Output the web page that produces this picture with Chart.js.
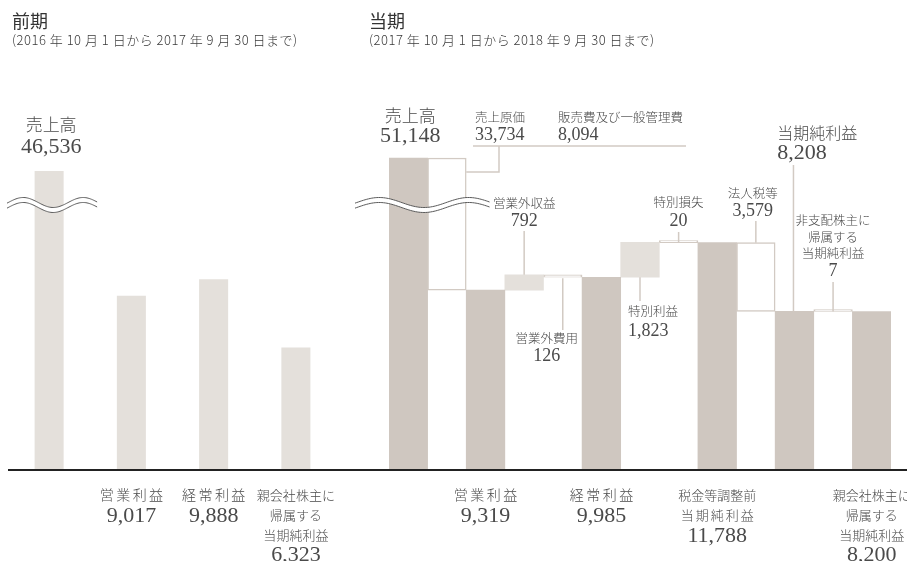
<!DOCTYPE html>
<html lang="ja">
<head>
<meta charset="utf-8">
<script src="https://cdn.jsdelivr.net/npm/chart.js@4.4.1/dist/chart.umd.min.js"></script>
<style>
  html, body { margin: 0; padding: 0; background: #fff; }
  #stage { position: relative; width: 907px; height: 561px; overflow: hidden;
           font-family: "Noto Sans CJK JP", "Noto Sans", sans-serif; color: #333; }
  .head { position: absolute; top: 9px; white-space: nowrap; }
  .head h2 { margin: 0; font-size: 18px; font-weight: 400; line-height: 22px; }
  .head p { margin: 0; font-size: 13px; line-height: 18px; color: #3a3a3a; font-weight: 300; letter-spacing: 0.5px; }
  canvas { position: absolute; top: 0; }
</style>
</head>
<body>
<div id="stage">
  <canvas id="prev" width="350" height="561" style="left:0;width:350px;height:561px"></canvas>
  <canvas id="curr" width="557" height="561" style="left:350px;width:557px;height:561px"></canvas>
  <div class="head" style="left:12px"><h2>前期</h2><p>(2016 年 10 月 1 日から 2017 年 9 月 30 日まで)</p></div>
  <div class="head" style="left:369px"><h2>当期</h2><p>(2017 年 10 月 1 日から 2018 年 9 月 30 日まで)</p></div>
</div>
<script>
// ---- 前期 (単位: 百万円) ----
const prevCategories = ['売上高', '営業利益', '経常利益', '親会社株主に帰属する当期純利益'];
const prevValues = [46536, 9017, 9888, 6323];

// ---- 当期 (単位: 百万円) ----
const costOfSales = 33734;      // 売上原価
const sgaExpenses = 8094;       // 販売費及び一般管理費
const currCategories = ['売上高', '売上原価・販管費', '営業利益', '営業外収益', '営業外費用', '経常利益',
  '特別利益', '特別損失', '税金等調整前当期純利益', '法人税等', '当期純利益',
  '非支配株主に帰属する当期純利益', '親会社株主に帰属する当期純利益'];
// subtotals (null where the step is a change)
const currTotals = [51148, null, 9319, null, null, 9985, null, null, 11788, null, 8208, null, 8200];
// changes (null where the step is a subtotal)
const currChanges = [null, -(costOfSales + sgaExpenses), null, 792, -126, null, 1823, -20, null, -3579, null, -7, null];

// ---- styling ----
const DARK = '#cfc7c0';
const LIGHT = '#e4e0db';
const LINE = '#d2cac3';
const TEXT = '#4a4a4a';
const FONT_FAMILY = '"Liberation Serif", "Noto Sans CJK JP", serif';
const f = px => '300 ' + px + 'px ' + FONT_FAMILY;
const fmt = v => Math.abs(v).toLocaleString('en-US');

// axis break: values above BREAK_AT are compressed
const BREAK_AT = 13750;
const breakFn = k => v => (v <= BREAK_AT ? v : BREAK_AT + (v - BREAK_AT) * k);
const brkPrev = breakFn(0.054);
const brkCurr = breakFn(0.0655);

// waterfall bars for 当期
const totalBars = [], gainBars = [], lossBars = [], steps = [];
let running = 0;
currCategories.forEach((c, i) => {
  if (currTotals[i] !== null) {
    running = currTotals[i];
    totalBars.push([0, brkCurr(running)]); gainBars.push(null); lossBars.push(null);
    steps.push({ lo: 0, hi: running });
  } else {
    const next = running + currChanges[i];
    const seg = [brkCurr(running), brkCurr(next)];
    if (currChanges[i] > 0) { gainBars.push(seg); lossBars.push(null); }
    else { lossBars.push(seg); gainBars.push(null); }
    totalBars.push(null);
    steps.push({ lo: Math.min(running, next), hi: Math.max(running, next) });
    running = next;
  }
});

// ---- drawing helpers ----
function txt(ctx, s, x, y, size, align, spacing) {
  ctx.save();
  ctx.font = f(size);
  ctx.fillStyle = TEXT;
  ctx.textAlign = align || 'center';
  ctx.textBaseline = 'alphabetic';
  if (spacing) {
    ctx.letterSpacing = spacing + 'px';
    if ((align || 'center') === 'center') x += spacing / 2;
  }
  ctx.fillText(s, x, y);
  ctx.restore();
}
function line(ctx, pts, color, w) {
  ctx.save();
  ctx.strokeStyle = color; ctx.lineWidth = w;
  ctx.beginPath();
  pts.forEach((p, i) => i ? ctx.lineTo(p[0], p[1]) : ctx.moveTo(p[0], p[1]));
  ctx.stroke();
  ctx.restore();
}
function breakMark(ctx, x0, x1, yc) {
  const amp = 5, gap = 5, n = 80;
  const wy = t => yc - amp * Math.cos(2 * Math.PI * (t - 0.18) / 0.665);
  const up = [], dn = [];
  for (let i = 0; i <= n; i++) {
    const t = i / n, x = x0 + (x1 - x0) * t, y = wy(t);
    up.push([x, y - gap / 2]); dn.push([x, y + gap / 2]);
  }
  ctx.save();
  ctx.fillStyle = '#fff';
  ctx.beginPath();
  up.forEach((p, i) => i ? ctx.lineTo(p[0], p[1]) : ctx.moveTo(p[0], p[1]));
  dn.slice().reverse().forEach(p => ctx.lineTo(p[0], p[1]));
  ctx.closePath();
  ctx.fill();
  ctx.restore();
  line(ctx, up, '#5a5a5a', 1);
  line(ctx, dn, '#5a5a5a', 1);
}
function baseLine(chart, x0, x1) {
  const y = chart.scales.y.getPixelForValue(0) + 1;
  line(chart.ctx, [[x0, y], [x1, y]], '#222', 2);
}

const baseOptions = (padding) => ({
  responsive: false,
  animation: false,
  events: [],
  layout: { padding },
  scales: {
    x: { display: false },
    y: { display: false, min: 0, max: 20000 }
  },
  plugins: { legend: { display: false }, tooltip: { enabled: false } }
});

// ---- 前期 chart ----
const prevDecor = {
  id: 'prevDecor',
  afterDatasetsDraw(chart) {
    const ctx = chart.ctx, xs = chart.scales.x, ys = chart.scales.y;
    const cx = i => xs.getPixelForValue(i);
    breakMark(ctx, chart.chartArea.left - 1, cx(0) + 48, ys.getPixelForValue(BREAK_AT));
    baseLine(chart, chart.chartArea.left, chart.width);
    txt(ctx, '売上高', cx(0) + 2, 131, 17);
    txt(ctx, fmt(prevValues[0]), cx(0) + 2, 153, 22);
    txt(ctx, '営業利益', cx(1), 500, 14, 'center', 2.5);
    txt(ctx, fmt(prevValues[1]), cx(1), 522, 22);
    txt(ctx, '経常利益', cx(2), 500, 14, 'center', 2.5);
    txt(ctx, fmt(prevValues[2]), cx(2), 522, 22);
    txt(ctx, '親会社株主に', cx(3), 500, 13);
    txt(ctx, '帰属する', cx(3), 520, 13);
    txt(ctx, '当期純利益', cx(3), 540, 13);
    txt(ctx, fmt(prevValues[3]), cx(3), 561, 22);
  }
};

new Chart(document.getElementById('prev'), {
  type: 'bar',
  data: {
    labels: prevCategories,
    datasets: [{
      data: prevValues.map(brkPrev),
      backgroundColor: LIGHT,
      borderWidth: 0,
      barPercentage: 0.353,
      categoryPercentage: 1
    }]
  },
  options: baseOptions({ left: 8, right: 13, top: 85, bottom: 92 }),
  plugins: [prevDecor]
});

// ---- 当期 chart ----
const currDecor = {
  id: 'currDecor',
  afterDatasetsDraw(chart) {
    const ctx = chart.ctx, xs = chart.scales.x, ys = chart.scales.y;
    const off = 350; // page x of this canvas
    const P = px => px - off;
    const cx = i => xs.getPixelForValue(i);
    const w = cx(1) - cx(0);
    const yv = v => ys.getPixelForValue(brkCurr(v));
    const top = i => yv(steps[i].hi);
    const bot = i => yv(steps[i].lo);

    breakMark(ctx, chart.chartArea.left - 34, cx(2) + 4, ys.getPixelForValue(BREAK_AT));
    baseLine(chart, 0, chart.width);

    // 売上高
    txt(ctx, '売上高', cx(0) + 2, 122, 17);
    txt(ctx, fmt(currTotals[0]), cx(0) + 2, 142, 22);

    // 売上原価 / 販売費及び一般管理費 bracket
    txt(ctx, '売上原価', P(475), 122, 12.5, 'left');
    txt(ctx, fmt(costOfSales), P(475), 140, 18, 'left');
    txt(ctx, '販売費及び一般管理費', P(558), 122, 12.5, 'left');
    txt(ctx, fmt(sgaExpenses), P(558), 140, 18, 'left');
    line(ctx, [[P(473), 146], [P(686), 146]], LINE, 1.5);
    const elbowY = top(1) + 14;
    line(ctx, [[P(499), 146], [P(499), elbowY], [cx(1) + w / 2, elbowY]], LINE, 1.5);

    // 営業外収益
    txt(ctx, '営業外収益', cx(3), 208, 12.5);
    txt(ctx, fmt(currChanges[3]), cx(3), 226, 18);
    line(ctx, [[cx(3), 231], [cx(3), top(3)]], LINE, 1.5);

    // 営業外費用
    txt(ctx, '営業外費用', cx(4) - 16, 343, 12.5);
    txt(ctx, fmt(currChanges[4]), cx(4) - 16, 361, 18);
    line(ctx, [[cx(4), bot(4) + 1], [cx(4), 330]], LINE, 1.5);

    // 特別利益
    txt(ctx, '特別利益', cx(6) - 12, 316, 12.5, 'left');
    txt(ctx, fmt(currChanges[6]), cx(6) - 12, 336, 18, 'left');
    line(ctx, [[cx(6), bot(6)], [cx(6), 301]], LINE, 1.5);

    // 特別損失
    txt(ctx, '特別損失', cx(7), 207, 12.5);
    txt(ctx, fmt(currChanges[7]), cx(7), 226, 18);
    line(ctx, [[cx(7), 232], [cx(7), top(7)]], LINE, 1.5);

    // 法人税等
    txt(ctx, '法人税等', cx(9) - 3, 198, 12.5);
    txt(ctx, fmt(currChanges[9]), cx(9) - 3, 216, 18);
    line(ctx, [[cx(9), 221], [cx(9), top(9)]], LINE, 1.5);

    // 当期純利益
    txt(ctx, '当期純利益', cx(10) - w / 2 + 2, 139, 16, 'left');
    txt(ctx, fmt(currTotals[10]), cx(10) - w / 2 + 2, 159, 22, 'left');
    line(ctx, [[cx(10) - 1, 165], [cx(10) - 1, top(10)]], LINE, 1.5);

    // 非支配株主に帰属する当期純利益
    txt(ctx, '非支配株主に', cx(11), 225, 12.5);
    txt(ctx, '帰属する', cx(11), 242, 12.5);
    txt(ctx, '当期純利益', cx(11), 258, 12.5);
    txt(ctx, fmt(currChanges[11]), cx(11), 276, 18);
    line(ctx, [[cx(11), 282], [cx(11), top(11)]], LINE, 1.5);

    // bottom labels
    txt(ctx, '営業利益', cx(2), 500, 14, 'center', 2.5);
    txt(ctx, fmt(currTotals[2]), cx(2), 522, 22);
    txt(ctx, '経常利益', cx(5), 500, 14, 'center', 2.5);
    txt(ctx, fmt(currTotals[5]), cx(5), 522, 22);
    txt(ctx, '税金等調整前', cx(8), 500, 13);
    txt(ctx, '当期純利益', cx(8), 520, 13, 'center', 2);
    txt(ctx, fmt(currTotals[8]), cx(8), 542, 22);
    txt(ctx, '親会社株主に', cx(12), 500, 13);
    txt(ctx, '帰属する', cx(12), 520, 13);
    txt(ctx, '当期純利益', cx(12), 540, 13);
    txt(ctx, fmt(currTotals[12]), cx(12), 561, 22);
  }
};

const barCommon = { grouped: false, barPercentage: 1, categoryPercentage: 1 };
new Chart(document.getElementById('curr'), {
  type: 'bar',
  data: {
    labels: currCategories,
    datasets: [
      Object.assign({ data: totalBars, backgroundColor: DARK, borderWidth: 0 }, barCommon),
      Object.assign({ data: gainBars, backgroundColor: LIGHT, borderWidth: 0 }, barCommon),
      Object.assign({ data: lossBars, backgroundColor: '#fff', borderColor: LINE,
        borderWidth: 1.5, borderSkipped: false, minBarLength: 2 }, barCommon)
    ]
  },
  options: baseOptions({ left: 39, right: 16, top: 85, bottom: 92 }),
  plugins: [currDecor]
});
</script>
</body>
</html>
